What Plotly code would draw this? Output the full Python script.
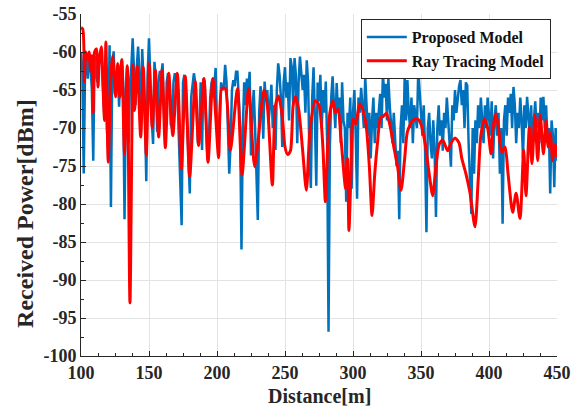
import plotly.graph_objects as go

# Distance grid (m) for the proposed model, one sample per metre
distance_m = list(range(100, 451))

# Received power of the proposed model [dBm]
proposed_dbm = [
    -60.0, -62.5, -76.0, -62.0, -61.0, -63.5, -60.5, -62.0, -65.0, -74.3,
    -60.5, -62.0, -64.0, -60.5, -61.5, -60.0, -64.5, -68.0, -61.0, -70.0,
    -73.0, -59.1, -80.4, -62.0, -59.9, -65.5, -63.0, -62.0, -67.2, -62.0,
    -61.0, -64.0, -82.0, -65.0, -62.0, -72.0, -64.0, -62.0, -58.2, -62.5,
    -67.0, -62.0, -59.3, -63.0, -70.5, -59.6, -63.0, -68.0, -77.0, -63.0,
    -58.2, -64.0, -69.0, -72.1, -61.3, -63.5, -70.5, -64.0, -62.5, -63.0,
    -61.5, -68.0, -72.0, -64.0, -62.8, -64.5, -69.5, -70.0, -64.0, -62.8,
    -63.5, -66.0, -72.0, -76.0, -82.8, -64.0, -63.0, -64.5, -70.0, -75.0,
    -78.6, -66.0, -64.0, -62.8, -64.0, -69.0, -72.0, -70.0, -64.0, -72.9,
    -63.5, -64.0, -68.0, -74.0, -72.0, -66.0, -64.0, -63.5, -64.5, -62.1,
    -70.0, -73.0, -70.0, -64.0, -65.0, -64.8, -61.7, -64.0, -70.0, -76.0,
    -72.0, -65.0, -63.7, -64.5, -62.6, -62.6, -66.0, -70.0, -86.0, -70.0,
    -64.0, -67.0, -63.5, -65.0, -62.6, -73.6, -68.0, -65.0, -70.0, -76.4,
    -82.1, -68.0, -64.5, -66.0, -71.4, -63.9, -66.5, -65.0, -69.0, -67.0,
    -64.3, -70.0, -67.0, -72.9, -65.0, -61.5, -63.0, -66.0, -72.5, -64.0,
    -62.0, -66.0, -64.0, -69.0, -60.8, -62.0, -67.0, -60.8, -63.0, -72.0,
    -64.0, -60.6, -62.5, -65.0, -63.0, -68.0, -61.1, -64.0, -73.8, -77.9,
    -66.0, -62.0, -69.0, -77.6, -64.0, -66.5, -63.0, -70.0, -65.0, -68.0,
    -63.9, -72.0, -96.8, -72.3, -66.0, -63.2, -67.0, -70.0, -64.1, -68.0,
    -66.0, -72.0, -64.0, -69.0, -70.0, -79.7, -68.0, -70.0, -66.0, -78.0,
    -68.0, -65.0, -71.0, -79.3, -66.0, -68.0, -64.7, -67.0, -70.0, -63.3,
    -67.0, -71.0, -68.0, -74.0, -69.0, -66.0, -72.0, -68.0, -70.0, -67.0,
    -65.5, -70.0, -62.7, -66.0, -64.2, -69.0, -63.5, -67.0, -70.0, -72.0,
    -68.0, -71.0, -75.0, -73.0, -82.0, -70.0, -67.0, -72.0, -63.2, -69.0,
    -63.7, -68.0, -70.0, -66.0, -72.0, -67.0, -69.0, -70.0, -62.3, -66.0,
    -68.0, -71.0, -67.0, -73.0, -83.7, -70.0, -68.0, -72.0, -74.0, -69.0,
    -73.0, -81.7, -70.0, -67.0, -71.0, -69.0, -73.0, -68.0, -70.0, -66.0,
    -70.0, -72.0, -75.1, -67.0, -69.0, -65.0, -68.0, -66.0, -64.5, -63.7,
    -67.0, -65.0, -70.0, -64.0, -64.4, -72.0, -77.0, -81.3, -70.0, -76.0,
    -69.0, -72.0, -67.0, -70.0, -66.0, -69.0, -72.0, -67.0, -70.0, -66.0,
    -68.0, -71.0, -66.5, -74.0, -69.0, -67.0, -71.0, -68.0, -76.0, -70.0,
    -82.6, -69.0, -67.0, -71.0, -66.0, -68.0, -65.5, -70.0, -64.6, -67.0,
    -72.0, -68.0, -70.0, -66.0, -69.0, -74.0, -67.0, -70.0, -65.9, -68.0,
    -71.0, -67.0, -73.0, -69.0, -66.5, -70.0, -68.0, -72.0, -66.0, -69.0,
    -65.9, -70.0, -67.0, -72.0, -70.0, -78.6, -69.0, -71.0, -77.8, -70.0,
    -74.3,
]

# Ray tracing reference: distances (m) and received power [dBm]
ray_distance_m = [
    100, 101.3, 102.5, 103.5, 105, 106, 107, 108, 109, 110,
    111.5, 112.5, 113.5, 115, 116, 117.3, 118.3, 120, 122, 123.3,
    125.5, 127, 128.5, 130, 132, 134, 136, 138.2, 139.4, 141.4,
    143.9, 145.8, 148, 150, 152.4, 154.7, 157.1, 159.6, 162, 164.5,
    167.5, 170.8, 173.8, 176.7, 179.9, 184, 186.5, 190.4, 193.4, 197,
    201.2, 203.5, 206, 209.8, 215, 218.4, 223.3, 227.7, 234.6, 237,
    240.7, 243, 245.3, 248, 250, 252, 254, 256, 257.6, 260,
    263, 265.7, 268.5, 272.3, 275, 276.7, 278, 279.7, 281.5, 283,
    285.3, 287, 289, 291, 294.6, 296, 297, 298.5, 300, 302,
    304.9, 307, 309.8, 312, 314, 316, 318, 320.3, 322, 324.5,
    327, 330, 332.8, 335.3, 338, 340, 343.9, 347.5, 350, 353,
    356, 358.6, 361, 363.5, 366, 369.6, 372, 375, 378, 380,
    383, 386, 389.7, 392, 394, 396.6, 399, 401.5, 403, 405,
    407, 409.3, 411.8, 414, 417.4, 419.9, 422.8, 425.5, 427.2, 429.7,
    431.6, 433.8, 435.8, 437.7, 440, 442, 443.5, 445.1, 446.8, 448.5,
    450,
]
ray_tracing_dbm = [
    -56.8, -57.0, -64.0, -60.0, -61.0, -60.0, -62.5, -60.5, -68.0, -60.0,
    -59.6, -64.6, -61.0, -59.3, -63.5, -69.0, -58.7, -74.5, -63.0, -60.5,
    -65.9, -61.5, -66.0, -61.0, -73.4, -61.8, -93.0, -61.7, -67.7, -61.8,
    -71.2, -62.0, -73.6, -61.5, -69.9, -62.4, -71.2, -62.4, -72.6, -62.8,
    -71.0, -62.8, -75.4, -63.2, -76.4, -63.9, -72.3, -63.5, -74.5, -63.5,
    -73.9, -64.8, -64.8, -73.0, -64.8, -76.2, -64.8, -75.1, -65.0, -67.0,
    -77.5, -67.0, -65.8, -68.5, -72.5, -73.5, -73.0, -67.0, -65.9, -67.5,
    -73.0, -78.2, -70.0, -66.4, -67.0, -69.4, -73.0, -79.7, -72.0, -68.0,
    -66.4, -68.0, -67.5, -71.0, -78.0, -74.0, -83.5, -76.0, -68.8, -69.5,
    -66.8, -67.5, -69.9, -75.0, -81.5, -76.0, -72.0, -68.6, -68.5, -68.1,
    -69.5, -72.5, -75.1, -78.2, -74.0, -70.5, -69.0, -68.8, -69.5, -72.0,
    -76.0, -78.9, -75.0, -72.1, -71.6, -73.0, -72.0, -71.3, -72.0, -74.0,
    -76.0, -78.5, -83.0, -77.0, -71.0, -68.8, -70.0, -73.4, -70.0, -68.1,
    -70.0, -73.2, -72.5, -76.0, -81.1, -78.6, -81.9, -72.9, -78.9, -69.9,
    -74.7, -68.3, -74.3, -68.3, -73.4, -69.0, -72.5, -70.7, -74.3, -72.1,
    -73.8,
]

# Axis ticks
x_ticks = [100, 150, 200, 250, 300, 350, 400, 450]
x_tick_labels = ["100", "150", "200", "250", "300", "350", "400", "450"]
y_ticks = [-100, -95, -90, -85, -80, -75, -70, -65, -60, -55]
y_tick_labels = ["-100", "-95", "-90", "-85", "-80", "-75", "-70", "-65", "-60", "-55"]

SERIF = "Liberation Serif"
AXIS_COLOR = "#262626"
GRID_COLOR = "#e3e3e3"

fig = go.Figure()
fig.add_trace(go.Scatter(
    x=distance_m, y=proposed_dbm, mode="lines", name="Proposed Model",
    line=dict(color="#0072BD", width=2.5),
))
fig.add_trace(go.Scatter(
    x=ray_distance_m, y=ray_tracing_dbm, mode="lines", name="Ray Tracing Model",
    line=dict(color="#FF0000", width=3, shape="spline", smoothing=0.7),
))

axis_common = dict(
    showline=True, linecolor=AXIS_COLOR, linewidth=1,
    showgrid=True, gridcolor=GRID_COLOR, gridwidth=1,
    ticks="inside", ticklen=5, tickcolor=AXIS_COLOR,
    tickfont=dict(family=SERIF, size=18, color="#262626", weight="bold"),
    zeroline=False, mirror=False, automargin=False,
)

fig.update_xaxes(
    range=[100, 450], tickvals=x_ticks, ticktext=x_tick_labels,
    minor=dict(dtick=12.5, ticks="inside", ticklen=3, tickcolor=AXIS_COLOR, showgrid=False),
    **axis_common,
)
fig.update_yaxes(
    range=[-100, -55], tickvals=y_ticks, ticktext=y_tick_labels,
    minor=dict(dtick=2.5, ticks="inside", ticklen=3, tickcolor=AXIS_COLOR, showgrid=False),
    **axis_common,
)

# Axis titles as free labels so their positions stay fixed
fig.add_annotation(
    text="Distance[m]",
    xref="paper", yref="paper", x=0.5, y=-0.117,
    xanchor="center", yanchor="middle", showarrow=False,
    font=dict(family=SERIF, size=20, color="#262626", weight="bold"),
)
fig.add_annotation(
    text="Received Power[dBm]", textangle=-90,
    xref="paper", yref="paper", x=-0.118, y=0.418,
    xanchor="center", yanchor="middle", showarrow=False,
    font=dict(family=SERIF, size=24, color="#262626", weight="bold"),
)

fig.update_layout(
    width=580, height=407,
    margin=dict(l=81, r=23, t=14, b=51),
    paper_bgcolor="white", plot_bgcolor="white",
    showlegend=True,
    legend=dict(
        x=0.987, y=0.985, xanchor="right", yanchor="top",
        bgcolor="white", bordercolor="#262626", borderwidth=1,
        font=dict(family=SERIF, size=16, color="#111111", weight="bold"),
        tracegroupgap=0, itemwidth=40,
    ),
)

fig.write_html("out.html")
